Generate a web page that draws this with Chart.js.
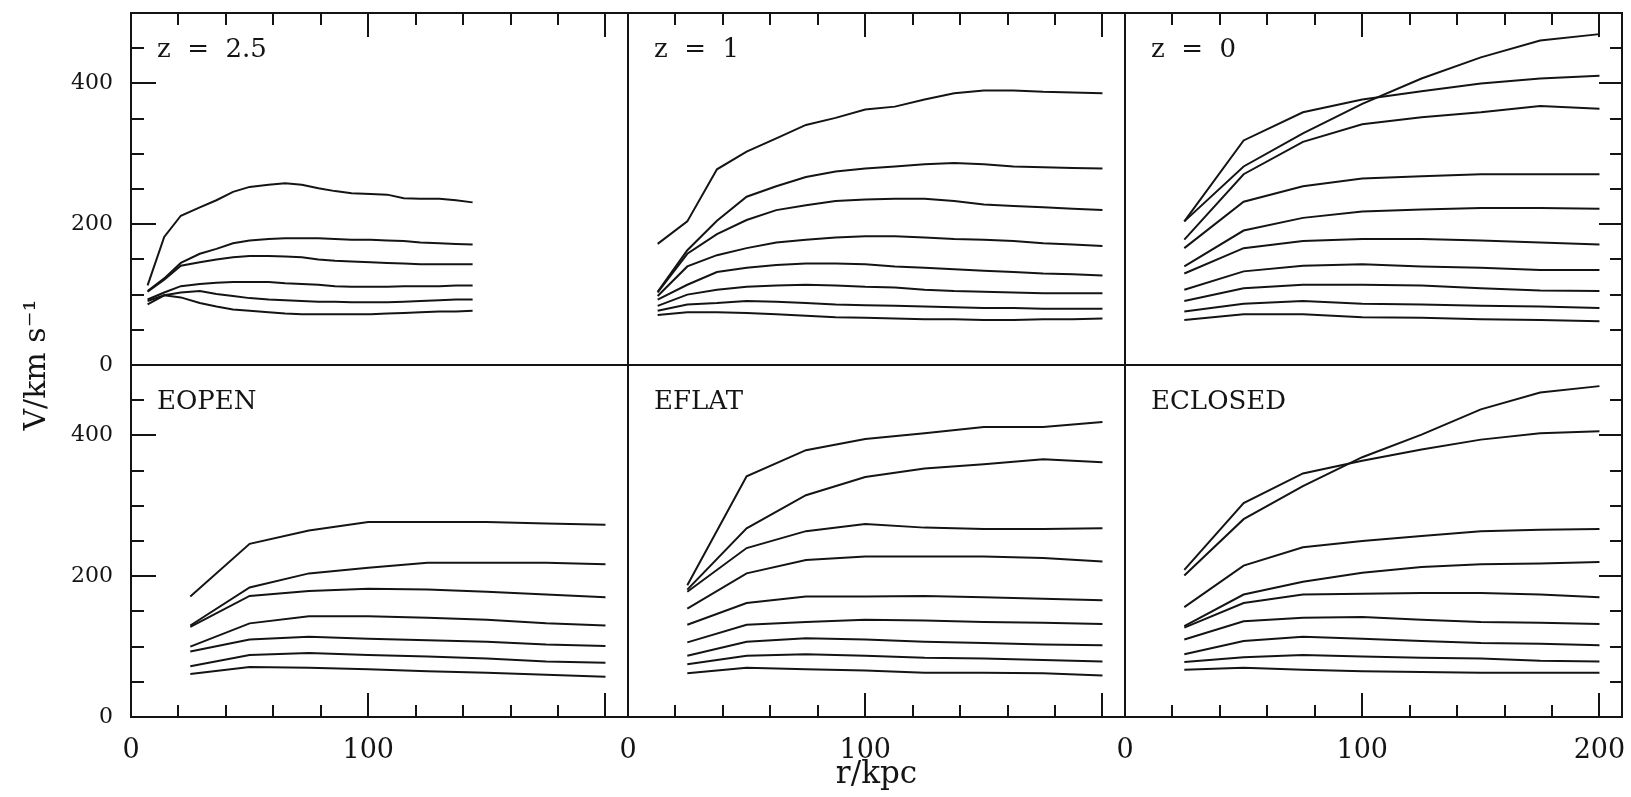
<!DOCTYPE html>
<html>
<head>
<meta charset="utf-8">
<title>Rotation curves</title>
<script src="https://cdn.jsdelivr.net/npm/chart.js@4.4.1/dist/chart.umd.min.js"></script>
<style>
  html, body { margin: 0; padding: 0; background: #fff; }
  #box { position: relative; width: 1631px; height: 797px; }
</style>
</head>
<body>
<div id="box"><canvas id="curves" width="1631" height="797"></canvas></div>
<script>
// radii (kpc) where the curves are sampled
const R_Z25 = [7, 14, 21, 29, 36, 43, 50, 58, 65, 72, 79, 86, 93, 101, 108, 115, 122, 130, 137, 144];
const R_Z1 = [12.5, 25, 37.5, 50, 62.5, 75, 87.5, 100, 112.5, 125, 137.5, 150, 162.5, 175, 187.5, 200];
const R_25 = [25, 50, 75, 100, 125, 150, 175, 200];

// circular velocity (km/s), one row per galaxy
const V_Z25 = [
  [113, 182, 212, 224, 234, 246, 253, 256, 258, 256, 251, 247, 244, 243, 242, 237, 236, 236, 234, 231],
  [105, 123, 145, 158, 165, 173, 177, 179, 180, 180, 180, 179, 178, 178, 177, 176, 174, 173, 172, 171],
  [104, 121, 141, 146, 150, 153, 155, 155, 154, 153, 150, 148, 147, 146, 145, 144, 143, 143, 143, 143],
  [93, 103, 112, 115, 117, 118, 118, 118, 116, 115, 114, 112, 111, 111, 111, 112, 112, 112, 113, 113],
  [91, 99, 103, 105, 101, 98, 95, 93, 92, 91, 90, 90, 89, 89, 89, 90, 91, 92, 93, 93],
  [86, 99, 96, 88, 83, 79, 77, 75, 73, 72, 72, 72, 72, 72, 73, 74, 75, 76, 76, 77]
];
const V_Z1 = [
  [172, 204, 278, 303, 322, 341, 351, 363, 367, 377, 386, 390, 390, 388, 387, 386],
  [104, 163, 205, 239, 254, 267, 275, 279, 282, 285, 287, 285, 282, 281, 280, 279],
  [103, 158, 186, 206, 220, 227, 233, 235, 236, 236, 233, 228, 226, 224, 222, 220],
  [98, 140, 156, 166, 174, 178, 181, 183, 183, 181, 179, 178, 176, 173, 171, 169],
  [93, 114, 132, 138, 142, 144, 144, 143, 140, 138, 136, 134, 132, 130, 129, 127],
  [84, 100, 107, 111, 113, 114, 113, 111, 110, 107, 105, 104, 103, 102, 102, 102],
  [77, 86, 88, 91, 90, 88, 86, 85, 84, 83, 82, 81, 81, 80, 80, 80],
  [71, 75, 75, 74, 72, 70, 68, 67, 66, 65, 65, 64, 64, 65, 65, 66]
];
const V_Z0 = [
  [204, 282, 329, 371, 407, 437, 461, 470],
  [204, 319, 359, 377, 389, 400, 407, 411],
  [178, 271, 317, 342, 352, 359, 368, 364],
  [166, 232, 254, 265, 268, 271, 271, 271],
  [140, 191, 209, 218, 221, 223, 223, 222],
  [130, 166, 176, 179, 179, 177, 174, 171],
  [107, 133, 141, 143, 140, 138, 135, 135],
  [91, 109, 114, 114, 113, 109, 106, 105],
  [76, 87, 91, 87, 86, 84, 83, 81],
  [64, 72, 72, 68, 67, 65, 64, 62]
];
const V_EOPEN = [
  [171, 246, 265, 277, 277, 277, 275, 273],
  [130, 184, 204, 212, 219, 219, 219, 217],
  [128, 172, 179, 182, 181, 178, 174, 170],
  [100, 133, 143, 143, 141, 138, 133, 130],
  [93, 110, 114, 111, 109, 107, 103, 101],
  [72, 88, 91, 88, 86, 83, 79, 77],
  [61, 71, 70, 68, 65, 63, 60, 57]
];
const V_EFLAT = [
  [187, 342, 379, 395, 403, 412, 412, 419],
  [181, 268, 315, 341, 353, 359, 366, 362],
  [178, 240, 264, 274, 269, 267, 267, 268],
  [154, 204, 223, 228, 228, 228, 226, 221],
  [131, 162, 171, 171, 172, 170, 168, 166],
  [106, 131, 135, 138, 137, 135, 134, 132],
  [87, 107, 112, 110, 107, 105, 103, 102],
  [75, 87, 89, 87, 84, 83, 81, 79],
  [62, 70, 68, 66, 63, 63, 62, 59]
];
const V_ECLOSED = [
  [209, 304, 346, 364, 380, 394, 403, 406],
  [201, 281, 328, 369, 401, 437, 461, 470],
  [156, 215, 241, 250, 257, 264, 266, 267],
  [129, 174, 192, 205, 213, 217, 218, 220],
  [127, 162, 174, 175, 176, 176, 174, 170],
  [110, 136, 141, 142, 138, 135, 134, 132],
  [89, 108, 114, 111, 108, 105, 104, 102],
  [78, 85, 88, 86, 84, 83, 80, 79],
  [67, 70, 67, 65, 64, 63, 63, 63]
];

const PANEL_LABELS = ['z  =  2.5', 'z  =  1', 'z  =  0', 'EOPEN', 'EFLAT', 'ECLOSED'];
const X_MAJOR = [0, 100, 200];
const X_MINOR = [20, 40, 60, 80, 120, 140, 160, 180];
const Y_MAJOR = [0, 200, 400];
const Y_MINOR = [50, 100, 150, 250, 300, 350, 450];
const X_LABELS = [['0', '100'], ['0', '100'], ['0', '100', '200']];
const Y_LABELS = ['0', '200', '400'];
const X_TITLE = 'r/kpc';
const Y_TITLE = 'V/km s\u207B\u00B9';

const X_MAX = 209.5, Y_MAX = 500;
const INK = '#141414';
const SERIF = '"DejaVu Serif", "Liberation Serif", serif';

const PANELS = [
  { r: R_Z25, v: V_Z25, row: 0, col: 0 },
  { r: R_Z1, v: V_Z1, row: 0, col: 1 },
  { r: R_25, v: V_Z0, row: 0, col: 2 },
  { r: R_25, v: V_EOPEN, row: 1, col: 0 },
  { r: R_25, v: V_EFLAT, row: 1, col: 1 },
  { r: R_25, v: V_ECLOSED, row: 1, col: 2 }
];

function noPad(s) { s.paddingLeft = s.paddingRight = s.paddingTop = s.paddingBottom = 0; }

// one axis strip; minor and major ticks live on separate stacked axes
function axis(pos, weight, stack, o) {
  const horiz = pos === 'top' || pos === 'bottom';
  return {
    type: 'linear', axis: horiz ? 'x' : 'y', position: pos, weight, stack,
    min: 0, max: horiz ? X_MAX : Y_MAX,
    afterBuildTicks: s => { s.ticks = o.values.map(v => ({ value: v })); },
    afterFit: s => { if (horiz) s.height = o.size; else s.width = o.size; noPad(s); },
    border: { display: true, color: INK, width: 2 },
    grid: {
      drawOnChartArea: o.line !== undefined,
      color: c => (c.tick && c.tick.value === o.line) ? INK : 'rgba(0,0,0,0)',
      lineWidth: 2,
      drawTicks: true, tickLength: -o.len, tickColor: INK, tickWidth: 2
    },
    ticks: o.labels ? {
      display: true, autoSkip: false, maxRotation: 0, minRotation: 0, padding: o.pad, color: INK,
      font: { family: SERIF, size: o.font },
      callback: v => o.labels.includes(String(v)) ? String(v) : ''
    } : { display: false },
    title: o.title ? {
      display: true, text: o.title, color: INK,
      font: { family: SERIF, size: 31 }, padding: { top: 0, bottom: 3 }
    } : { display: false }
  };
}

const scales = {};
[0, 1, 2].forEach(c => {
  scales['xTop' + c] = axis('top', 1.2 - c / 10, 'tmin', { values: X_MINOR, len: 12, size: 0 });
  scales['xTopM' + c] = axis('top', 2.2 - c / 10, 'tmaj', { values: X_MAJOR, len: 24, size: 13 });
  scales['xBot' + c] = axis('bottom', 1 + c / 10, 'bmin', { values: X_MINOR, len: 12, size: 0 });
  scales['xBotM' + c] = axis('bottom', 2 + c / 10, 'bmaj', {
    values: c < 2 ? X_MAJOR.concat([X_MAX]) : X_MAJOR,
    line: c < 2 ? X_MAX : undefined,
    len: 24, size: 80, labels: X_LABELS[c], pad: 42, font: 27,
    title: c === 1 ? X_TITLE : null
  });
});
[0, 1].forEach(r => {
  scales['yL' + r] = axis('left', 1.1 - r / 10, 'lmin', { values: Y_MINOR, len: 13, size: 0 });
  scales['yLM' + r] = axis('left', 2.1 - r / 10, 'lmaj', {
    values: r ? Y_MAJOR.concat([Y_MAX]) : Y_MAJOR,
    line: r ? Y_MAX : undefined,
    len: 25, size: 69, labels: Y_LABELS, pad: 43, font: 22
  });
  scales['yR' + r] = axis('right', 1 + r / 10, 'rmin', { values: Y_MINOR, len: 12, size: 0 });
  scales['yRM' + r] = axis('right', 2 + r / 10, 'rmaj', { values: Y_MAJOR, len: 23, size: 9 });
});
scales.yTitle = {
  type: 'linear', axis: 'y', position: 'left', weight: 3, min: 0, max: 1,
  afterFit: s => { s.width = 62; noPad(s); },
  border: { display: false }, grid: { display: false }, ticks: { display: false },
  title: {
    display: true, text: Y_TITLE, color: INK,
    font: { family: SERIF, size: 30 }, padding: { top: 19, bottom: 0 }
  }
};

const datasets = [];
PANELS.forEach(p => p.v.forEach(curve => datasets.push({
  data: curve.map((y, i) => ({ x: p.r[i], y })),
  xAxisID: (p.row ? 'xBot' : 'xTop') + p.col,
  yAxisID: 'yL' + p.row,
  borderColor: INK, borderWidth: 2, pointRadius: 0, tension: 0, fill: false
})));

const panelLabels = {
  id: 'panelLabels',
  afterDraw(chart) {
    const { ctx } = chart;
    ctx.save();
    ctx.fillStyle = INK;
    ctx.font = '26px ' + SERIF;
    ctx.textBaseline = 'alphabetic';
    PANELS.forEach((p, k) => {
      const xs = chart.scales[(p.row ? 'xBot' : 'xTop') + p.col];
      const ys = chart.scales['yL' + p.row];
      ctx.fillText(PANEL_LABELS[k], xs.left + 26, ys.top + 44);
    });
    ctx.restore();
  }
};

new Chart(document.getElementById('curves'), {
  type: 'line',
  data: { datasets },
  options: {
    responsive: false, animation: false, devicePixelRatio: 1, events: [],
    layout: { padding: 0 },
    plugins: { legend: { display: false }, tooltip: { enabled: false } },
    scales
  },
  plugins: [panelLabels]
});
</script>
</body>
</html>
